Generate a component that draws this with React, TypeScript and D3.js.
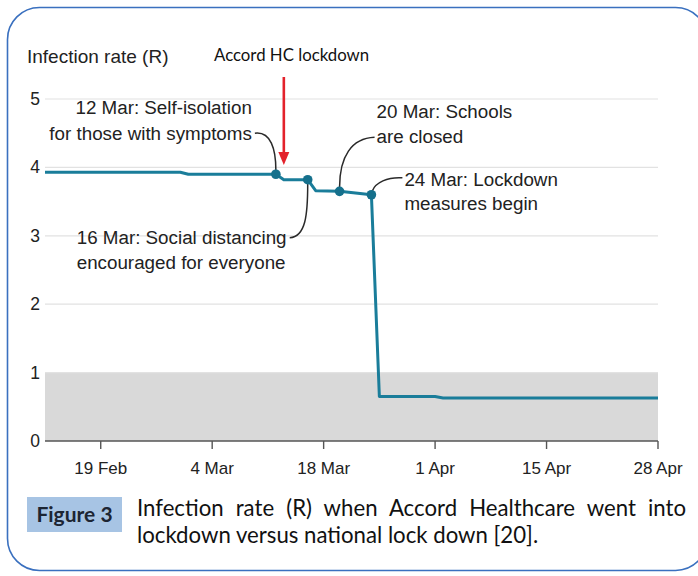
import React, { useEffect, useRef } from 'react';
import * as d3 from 'd3';

// R estimate by date
const dates = ['2020-02-12', '2020-02-29', '2020-03-01', '2020-03-12', '2020-03-13', '2020-03-16', '2020-03-17', '2020-03-20', '2020-03-24', '2020-03-25', '2020-04-01', '2020-04-02', '2020-04-29'];
const rValues = [3.93, 3.93, 3.9, 3.9, 3.82, 3.82, 3.66, 3.65, 3.6, 0.65, 0.65, 0.63, 0.63];

const yTicks = [0, 1, 2, 3, 4, 5];
const xTickDates = ['2020-02-19', '2020-03-04', '2020-03-18', '2020-04-01', '2020-04-15', '2020-04-29'];
const xTickLabels = ['19 Feb', '4 Mar', '18 Mar', '1 Apr', '15 Apr', '28 Apr'];

const eventDates = ['2020-03-12', '2020-03-16', '2020-03-20', '2020-03-24'];
const eventValues = [3.9, 3.82, 3.65, 3.6];
const eventLabels = [
  ['12 Mar: Self-isolation', 'for those with symptoms'],
  ['16 Mar: Social distancing', 'encouraged for everyone'],
  ['20 Mar: Schools', 'are closed'],
  ['24 Mar: Lockdown', 'measures begin'],
];

const accordDate = '2020-03-13';
const accordLabel = 'Accord HC lockdown';
const yTitle = 'Infection rate (R)';
const figLabel = 'Figure 3';
const captionLines = ['Infection rate (R) when Accord Healthcare went into', 'lockdown versus national lock down [20].'];

const W = 698;
const H = 576;
const parse = (s: string) => new Date(s + 'T00:00:00Z');

function Chart() {
  const ref = useRef<SVGSVGElement>(null);

  useEffect(() => {
    const svg = d3.select(ref.current);
    svg.selectAll('*').remove();

    const x = d3.scaleUtc().domain([parse('2020-02-12'), parse('2020-04-29')]).range([45, 658]);
    const y = d3.scaleLinear().domain([0, 5]).range([441, 99]);
    const font = '"Liberation Sans", Arial, sans-serif';
    const capFont = 'Lato, "Open Sans", sans-serif';
    const ink = '#222';

    svg.append('rect').attr('width', W).attr('height', H).attr('fill', '#fff');

    // frame
    svg.append('rect')
      .attr('x', 7.5).attr('y', 7.5).attr('width', 700).attr('height', 563)
      .attr('rx', 32).attr('fill', 'none').attr('stroke', '#3a70bf').attr('stroke-width', 1.6);

    // R < 1 band
    svg.append('rect')
      .attr('x', x.range()[0]).attr('y', y(1))
      .attr('width', x.range()[1] - x.range()[0]).attr('height', y(0) - y(1))
      .attr('fill', '#d9d9d9');

    // grid
    svg.selectAll('line.grid')
      .data(yTicks.filter(d => d > 0))
      .enter()
      .append('line')
      .attr('class', 'grid')
      .attr('x1', x.range()[0]).attr('x2', x.range()[1])
      .attr('y1', d => y(d)).attr('y2', d => y(d))
      .attr('stroke', '#e2e2e2').attr('stroke-width', 1.2);

    svg.selectAll('text.ylab')
      .data(yTicks)
      .enter()
      .append('text')
      .attr('class', 'ylab')
      .attr('x', 40).attr('y', d => y(d) + 6)
      .attr('text-anchor', 'end')
      .attr('font-family', font).attr('font-size', 17.5).attr('fill', ink)
      .text(d => d);

    // x axis
    const xAxis = svg.append('g').attr('transform', `translate(0,${y(0)})`);
    xAxis.append('line').attr('x1', x.range()[0]).attr('x2', x.range()[1]).attr('stroke', '#555').attr('stroke-width', 1.4);
    xTickDates.forEach((d, i) => {
      const px = x(parse(d));
      xAxis.append('line').attr('x1', px).attr('x2', px).attr('y1', 0).attr('y2', 8).attr('stroke', '#555').attr('stroke-width', 1.4);
      xAxis.append('text')
        .attr('x', px).attr('y', 33)
        .attr('text-anchor', 'middle')
        .attr('font-family', font).attr('font-size', 17).attr('fill', ink)
        .text(xTickLabels[i]);
    });

    svg.append('text')
      .attr('x', 27).attr('y', 63)
      .attr('font-family', font).attr('font-size', 19).attr('fill', ink)
      .text(yTitle);

    // the line
    const series = dates.map((d, i) => ({ date: parse(d), r: rValues[i] }));
    const line = d3.line<{ date: Date; r: number }>().x(d => x(d.date)).y(d => y(d.r));
    svg.append('path')
      .datum(series)
      .attr('d', line)
      .attr('fill', 'none').attr('stroke', '#1a7d9a').attr('stroke-width', 3).attr('stroke-linejoin', 'round');

    // annotations: text offset and connector relative to each event dot
    const notes = [
      { dx: -24, dy: [-60, -34], anchor: 'end', path: (a: number, b: number) => `M${a - 21},${b - 41} C${a - 5},${b - 43} ${a},${b - 25} ${a},${b - 4}` },
      { dx: -231, dy: [64, 89], anchor: 'start', path: (a: number, b: number) => `M${a - 18},${b + 58} C${a - 2},${b + 57} ${a},${b + 35} ${a},${b + 4}` },
      { dx: 37, dy: [-73, -48], anchor: 'start', path: (a: number, b: number) => `M${a + 35},${b - 54} C${a + 12},${b - 53} ${a},${b - 35} ${a},${b - 4}` },
      { dx: 33, dy: [-9, 15], anchor: 'start', path: (a: number, b: number) => `M${a + 31},${b - 17} C${a + 16},${b - 18} ${a + 4},${b - 12} ${a + 1},${b - 4}` },
    ];

    eventDates.forEach((d, i) => {
      const px = x(parse(d));
      const py = y(eventValues[i]);
      const n = notes[i];
      svg.append('path').attr('d', n.path(px, py)).attr('fill', 'none').attr('stroke', '#2a2a2a').attr('stroke-width', 1.5);
      eventLabels[i].forEach((t, j) => {
        svg.append('text')
          .attr('x', px + n.dx).attr('y', py + n.dy[j])
          .attr('text-anchor', n.anchor)
          .attr('font-family', font).attr('font-size', 18.8).attr('fill', ink)
          .text(t);
      });
    });

    svg.selectAll('circle.ev')
      .data(eventDates)
      .enter()
      .append('circle')
      .attr('class', 'ev')
      .attr('cx', d => x(parse(d)))
      .attr('cy', (d, i) => y(eventValues[i]))
      .attr('r', 4.8)
      .attr('fill', '#15708c');

    // Accord lockdown arrow
    const ax = x(parse(accordDate));
    svg.append('text')
      .attr('x', 214).attr('y', 61)
      .attr('font-family', capFont).attr('font-size', 16.8).attr('fill', '#111')
      .text(accordLabel);
    svg.append('line').attr('x1', ax).attr('x2', ax).attr('y1', 77).attr('y2', 154).attr('stroke', '#e3222b').attr('stroke-width', 2.6);
    svg.append('path').attr('d', `M${ax - 5.5},152 L${ax + 5.5},152 L${ax},165 Z`).attr('fill', '#e3222b');

    // caption
    svg.append('rect').attr('x', 27).attr('y', 497).attr('width', 95).attr('height', 35).attr('fill', '#a7c4e4');
    svg.append('text')
      .attr('x', 74.5).attr('y', 522)
      .attr('text-anchor', 'middle')
      .attr('font-family', capFont).attr('font-weight', 'bold').attr('font-size', 21).attr('fill', '#1c2533')
      .text(figLabel);

    captionLines.forEach((t, i) => {
      const tx = svg.append('text')
        .attr('x', 137).attr('y', 516 + i * 27)
        .attr('font-family', capFont).attr('font-size', 22.2).attr('fill', '#111')
        .text(t);
      if (i === 0) {
        // justify first line to the right edge
        const natural = (tx.node() as SVGTextElement).getComputedTextLength();
        const gaps = t.split(' ').length - 1;
        tx.attr('word-spacing', (686 - 137 - natural) / gaps);
      }
    });
  }, []);

  return <svg ref={ref} width={W} height={H} style={{ position: 'absolute', left: 0, top: 0, display: 'block' }} />;
}

export default function App() {
  return <Chart />;
}
